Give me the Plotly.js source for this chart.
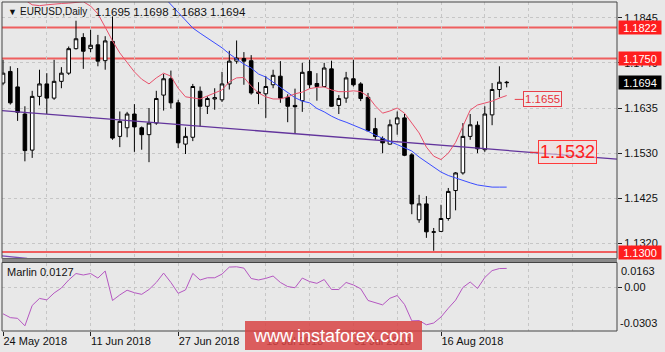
<!DOCTYPE html>
<html><head><meta charset="utf-8">
<script src="https://cdn.plot.ly/plotly-3.0.1.min.js"></script>
<style>html,body{margin:0;padding:0;background:#e8e8e8;}#chart{width:665px;height:352px;}</style>
</head><body><div id="chart"></div>
<script>
const dates = ['2018-05-24','2018-05-25','2018-05-28','2018-05-29','2018-05-30','2018-05-31','2018-06-01','2018-06-04','2018-06-05','2018-06-06','2018-06-07','2018-06-08','2018-06-11','2018-06-12','2018-06-13','2018-06-14','2018-06-15','2018-06-18','2018-06-19','2018-06-20','2018-06-21','2018-06-22','2018-06-25','2018-06-26','2018-06-27','2018-06-28','2018-06-29','2018-07-02','2018-07-03','2018-07-04','2018-07-05','2018-07-06','2018-07-09','2018-07-10','2018-07-11','2018-07-12','2018-07-13','2018-07-16','2018-07-17','2018-07-18','2018-07-19','2018-07-20','2018-07-23','2018-07-24','2018-07-25','2018-07-26','2018-07-27','2018-07-30','2018-07-31','2018-08-01','2018-08-02','2018-08-03','2018-08-06','2018-08-07','2018-08-08','2018-08-09','2018-08-10','2018-08-13','2018-08-14','2018-08-15','2018-08-16','2018-08-17','2018-08-20','2018-08-21','2018-08-22','2018-08-23','2018-08-24','2018-08-27','2018-08-28','2018-08-29'];
const openP = [1.1693,1.1720,1.1684,1.1621,1.1537,1.1662,1.1691,1.1658,1.1697,1.1716,
 1.1773,1.1799,1.1773,1.1782,1.1745,1.1790,1.1569,1.1589,1.1621,1.1589,
 1.1573,1.1600,1.1665,1.1703,1.1647,1.1551,1.1567,1.1674,1.1639,1.1656,
 1.1654,1.1691,1.1744,1.1750,1.1745,1.1672,1.1668,1.1689,1.1709,1.1660,
 1.1641,1.1652,1.1720,1.1692,1.1685,1.1726,1.1641,1.1658,1.1703,1.1691,
 1.1660,1.1587,1.1564,1.1551,1.1598,1.1612,1.1526,1.1375,1.1412,1.1346,
 1.1348,1.1378,1.1443,1.1484,1.1569,1.1595,1.1538,1.1619,1.1678,1.1695];
const highP = [1.1747,1.1732,1.1728,1.1639,1.1675,1.1724,1.1716,1.1747,1.1730,1.1778,
 1.1838,1.1809,1.1817,1.1805,1.1802,1.1848,1.1627,1.1626,1.1644,1.1592,
 1.1635,1.1675,1.1714,1.1722,1.1654,1.1590,1.1691,1.1685,1.1662,1.1681,
 1.1719,1.1768,1.1792,1.1765,1.1758,1.1695,1.1709,1.1724,1.1744,1.1667,
 1.1680,1.1740,1.1747,1.1716,1.1740,1.1745,1.1665,1.1719,1.1747,1.1695,
 1.1670,1.1612,1.1569,1.1608,1.1627,1.1621,1.1530,1.1433,1.1430,1.1356,
 1.1410,1.1449,1.1486,1.1600,1.1621,1.1604,1.1639,1.1693,1.1732,1.1698];
const lowP = [1.1688,1.1643,1.1605,1.1511,1.1519,1.1641,1.1621,1.1654,1.1681,1.1712,
 1.1771,1.1726,1.1765,1.1732,1.1724,1.1561,1.1544,1.1567,1.1533,1.1538,
 1.1509,1.1596,1.1629,1.1634,1.1542,1.1528,1.1558,1.1592,1.1621,1.1631,
 1.1649,1.1678,1.1738,1.1689,1.1666,1.1644,1.1612,1.1681,1.1647,1.1602,
 1.1575,1.1626,1.1681,1.1652,1.1683,1.1638,1.1621,1.1647,1.1685,1.1651,
 1.1581,1.1561,1.1530,1.1550,1.1573,1.1523,1.1388,1.1368,1.1333,1.1303,
 1.1347,1.1373,1.1397,1.1480,1.1561,1.1530,1.1533,1.1595,1.1660,1.1683];
const closeP = [1.1716,1.1647,1.1625,1.1536,1.1662,1.1691,1.1658,1.1697,1.1716,1.1773,
 1.1796,1.1767,1.1781,1.1744,1.1791,1.1565,1.1604,1.1621,1.1591,1.1573,
 1.1600,1.1657,1.1703,1.1647,1.1554,1.1569,1.1685,1.1639,1.1657,1.1659,
 1.1691,1.1744,1.1751,1.1744,1.1670,1.1669,1.1685,1.1711,1.1658,1.1639,
 1.1638,1.1718,1.1689,1.1685,1.1728,1.1639,1.1657,1.1705,1.1689,1.1657,
 1.1582,1.1569,1.1554,1.1596,1.1612,1.1525,1.1412,1.1412,1.1347,1.1347,
 1.1378,1.1441,1.1484,1.1569,1.1596,1.1540,1.1621,1.1678,1.1695,1.1694];
const maRed = [1.1905,1.1898,1.1892,1.1886,1.1875,1.1873,1.1875,1.1877,1.1878,1.1879,
 1.1880,1.1882,1.1872,1.1854,1.1823,1.1791,1.1763,1.1740,1.1719,1.1702,
 1.1691,1.1705,1.1716,1.1709,1.1681,1.1661,1.1658,1.1656,1.1663,1.1670,
 1.1677,1.1696,1.1705,1.1706,1.1686,1.1670,1.1661,1.1656,1.1656,1.1661,
 1.1668,1.1672,1.1680,1.1683,1.1684,1.1677,1.1673,1.1673,1.1675,1.1673,
 1.1662,1.1640,1.1623,1.1628,1.1635,1.1623,1.1600,1.1577,1.1544,1.1523,
 1.1515,1.1530,1.1555,1.1591,1.1630,1.1642,1.1647,1.1651,1.1658,1.1664];
const maBlue = [null,null,null,null,null,null,null,null,null,null,
 null,null,null,null,null,null,null,null,null,null,
 null,1.1912,1.1894,1.1877,1.1858,1.1840,1.1821,1.1809,1.1798,1.1787,
 1.1775,1.1761,1.1748,1.1737,1.1728,1.1714,1.1707,1.1695,1.1681,1.1670,
 1.1659,1.1651,1.1647,1.1634,1.1626,1.1616,1.1608,1.1602,1.1595,1.1588,
 1.1581,1.1572,1.1564,1.1557,1.1550,1.1542,1.1535,1.1521,1.1509,1.1498,
 1.1486,1.1478,1.1472,1.1466,1.1461,1.1456,1.1453,1.1451,1.1451,1.1451];
const marlin = [-0.0183,-0.0209,-0.0214,-0.0265,-0.0126,-0.0078,-0.0088,-0.0041,-0.0007,0.0048,
 0.0092,0.0082,0.0092,0.0061,0.0109,-0.0092,-0.0054,-0.0022,-0.0039,-0.0050,
 -0.0017,0.0031,0.0095,0.0031,-0.0043,-0.0020,0.0093,0.0048,0.0063,0.0063,
 0.0088,0.0136,0.0138,0.0129,0.0058,0.0048,0.0059,0.0075,0.0031,0.0003,
 -0.0005,0.0061,0.0037,0.0025,0.0051,-0.0017,-0.0017,0.0031,0.0014,-0.0012,
 -0.0092,-0.0107,-0.0122,-0.0077,-0.0058,-0.0119,-0.0231,-0.0229,-0.0258,-0.0246,
 -0.0205,-0.0145,-0.0090,-0.0003,0.0034,-0.0010,0.0065,0.0112,0.0126,0.0127];
const levels = [1.1822, 1.1750, 1.1300];
const trendX = [-0.14, 84.1];
const trendY = [1.1629, 1.1516];
const trend2X = [-0.14, 3.3];
const trend2Y = [1.1291, 1.1285];
const yTicks = [1.1320, 1.1425, 1.1530, 1.1635, 1.1740, 1.1845];
const tickDates = ['2018-05-24','2018-06-11','2018-06-27','2018-07-13','2018-07-31','2018-08-16'];
const tickText = ['24 May 2018','11 Jun 2018','27 Jun 2018','13 Jul 2018','31 Jul 2018','16 Aug 2018'];
const lastPrice = 1.1694;
const redLabel = 1.1655;
const bigLabel = 1.1532;
const header = ['EURUSD,Daily', '1.1695 1.1698 1.1683 1.1694'];
const marlinTitle = 'Marlin 0.0127';
const marlinMax = 0.0163, marlinMin = -0.0303;

const idx = dates.map((d, i) => i);
const W = 665, H = 352, ML = 2, MR = 48, MT = 2, MB = 21;
const PW = W - ML - MR, PH = H - MT - MB;
const px = x => (x - ML) / PW;
const py = y => (H - MB - y) / PH;
const FONT = 'Liberation Sans, Arial, sans-serif';
const RED = '#ff1e1e';

const traces = [
  {type: 'scatter', mode: 'lines', x: trendX, y: trendY, line: {color: '#62349c', width: 1.3}, hoverinfo: 'skip', xaxis: 'x', yaxis: 'y'},
  {type: 'scatter', mode: 'lines', x: trend2X, y: trend2Y, line: {color: '#7a4fb8', width: 1.3}, hoverinfo: 'skip', xaxis: 'x', yaxis: 'y'},
  {type: 'scatter', mode: 'lines', x: idx, y: maBlue, line: {color: '#3a4cff', width: 1}, hoverinfo: 'skip', xaxis: 'x', yaxis: 'y'},
  {type: 'scatter', mode: 'lines', x: idx, y: maRed, line: {color: '#e8506a', width: 1}, hoverinfo: 'skip', xaxis: 'x', yaxis: 'y'},
  {type: 'candlestick', x: idx, open: openP, high: highP, low: lowP, close: closeP,
   increasing: {line: {color: '#000', width: 1}, fillcolor: '#ffffff'},
   decreasing: {line: {color: '#000', width: 1}, fillcolor: '#000000'},
   whiskerwidth: 0, hoverinfo: 'skip', xaxis: 'x', yaxis: 'y'},
  {type: 'scatter', mode: 'lines', x: idx, y: marlin, line: {color: '#b457c0', width: 1}, hoverinfo: 'skip', xaxis: 'x', yaxis: 'y2'}
];

const mainBottom = py(258.5), subTop = py(262.5);
const shapes = [];
levels.forEach(v => shapes.push({type: 'line', xref: 'paper', x0: 0, x1: 1, yref: 'y', y0: v, y1: v, line: {color: 'rgba(240,80,80,0.9)', width: 2}, layer: 'below'}));
shapes.push({type: 'rect', xref: 'paper', yref: 'paper', x0: 0, x1: 1, y0: mainBottom, y1: 1, line: {color: '#444', width: 1}});
shapes.push({type: 'rect', xref: 'paper', yref: 'paper', x0: 0, x1: 1, y0: py(262.5), y1: py(258.5), fillcolor: '#8a8a8a', line: {width: 0}});
shapes.push({type: 'rect', xref: 'paper', yref: 'paper', x0: 0, x1: 1, y0: 0, y1: subTop, line: {color: '#444', width: 1}});
shapes.push({type: 'rect', xref: 'paper', yref: 'paper', x0: px(245), x1: px(422), y0: py(350), y1: py(321), fillcolor: 'rgba(216,68,68,0.85)', line: {width: 0}, layer: 'above'});

const ann = [];
const addTxt = (text, x, y, size, opts) => ann.push(Object.assign({text: text, xref: 'paper', yref: 'paper', x: px(x), y: py(y), xanchor: 'left', yanchor: 'middle', showarrow: false, font: {family: FONT, size: size, color: '#111'}}, opts || {}));
addTxt('\u25BC', 6, 12, 9);
addTxt(header[0], 18, 12, 10);
addTxt(header[1], 93, 12, 11.5);
addTxt(marlinTitle, 5, 271.5, 11);
addTxt(marlinMax.toFixed(4), 619, 270.5, 11);
addTxt(marlinMin.toFixed(4), 618, 323.3, 11);
const yLabel = (v, bg) => ann.push({text: v.toFixed(4), xref: 'paper', yref: 'y', x: 1, xshift: 1, y: v, xanchor: 'left', yanchor: 'middle', showarrow: false, bgcolor: bg, width: 42, height: 13, borderpad: 0, font: {family: FONT, size: 11, color: '#fff'}});
levels.forEach(v => yLabel(v, RED));
yLabel(lastPrice, '#000');
ann.push({text: redLabel.toFixed(4), xref: 'x', yref: 'y', x: 70.1, y: redLabel, showarrow: true, arrowhead: 0, arrowwidth: 1, arrowcolor: '#e8404a', ax: 28, ay: 0, bordercolor: '#e8404a', borderwidth: 1, borderpad: 1, bgcolor: '#ececec', font: {family: FONT, size: 11.5, color: '#e8303a'}});
ann.push({text: bigLabel.toFixed(4), xref: 'x', yref: 'y', x: 72.2, y: bigLabel, showarrow: true, arrowhead: 0, arrowwidth: 1, arrowcolor: '#ff3030', ax: 37, ay: 0, bordercolor: '#ff3a3a', borderwidth: 1, borderpad: 1, bgcolor: 'rgba(240,222,222,0.6)', font: {family: FONT, size: 18, color: '#ff2020'}});
ann.push({text: 'www.instaforex.com', xref: 'paper', yref: 'paper', x: px(333.5), y: py(336), xanchor: 'center', yanchor: 'middle', showarrow: false, font: {family: FONT, size: 18, color: '#ffffff'}});

const layout = {
  width: W, height: H, margin: {l: ML, r: MR, t: MT, b: MB},
  paper_bgcolor: '#e8e8e8', plot_bgcolor: '#e8e8e8', showlegend: false,
  font: {family: FONT, size: 11, color: '#111'},
  xaxis: {type: 'linear', range: [-0.137, 84.11], anchor: 'y2', rangeslider: {visible: false},
    tickvals: tickDates.map(d => dates.indexOf(d)), ticktext: tickText, ticklabelposition: 'outside right',
    ticks: 'outside', ticklen: 4, tickcolor: '#222', tickfont: {family: FONT, size: 11, color: '#111'},
    showgrid: true, gridcolor: '#c6c6c6', griddash: '3px,3px', zeroline: false, showline: false,
    minor: {tick0: 0, dtick: 6, showgrid: true, gridcolor: '#c6c6c6', griddash: '3px,3px', ticks: ''}},
  yaxis: {domain: [mainBottom, 1], range: [1.12850, 1.18815], side: 'right', anchor: 'x',
    tickvals: yTicks, tickformat: '.4f', ticks: 'outside', ticklen: 4, tickcolor: '#222',
    showgrid: true, gridcolor: '#c6c6c6', griddash: '3px,3px', zeroline: false, showline: false},
  yaxis2: {domain: [0, subTop], range: [-0.03004, 0.01673], side: 'right', anchor: 'x',
    tickvals: [0], ticktext: ['0.00'], ticks: 'outside', ticklen: 4, tickcolor: '#222',
    showgrid: true, gridcolor: '#c6c6c6', griddash: '3px,3px', zeroline: false, showline: false},
  shapes: shapes, annotations: ann
};
Plotly.newPlot('chart', traces, layout, {staticPlot: true, displayModeBar: false});
</script></body></html>
